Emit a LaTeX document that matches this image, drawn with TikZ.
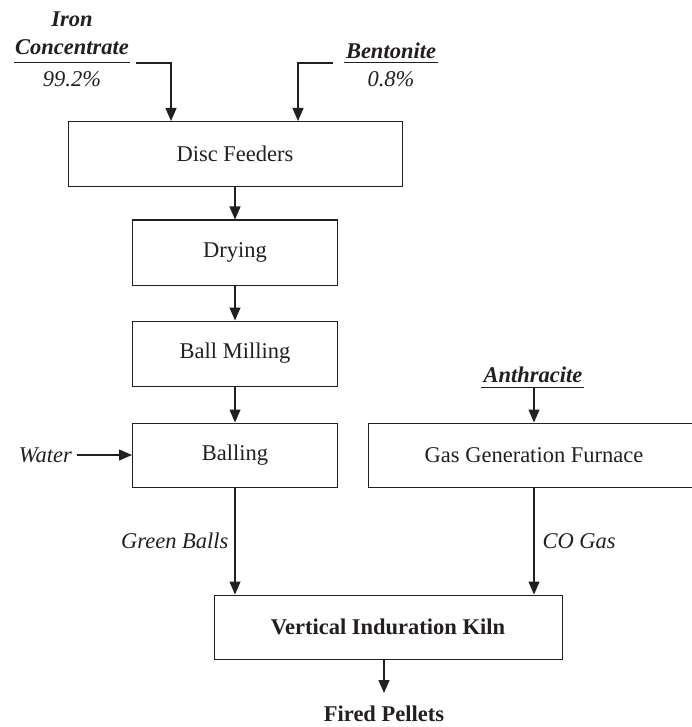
\documentclass[tikz,border=0pt]{standalone}
\usepackage{fontspec}
\setmainfont{Liberation Serif}
\usetikzlibrary{arrows.meta}
\definecolor{ink}{RGB}{35,31,32}
\begin{document}
\begin{tikzpicture}[x=1pt,y=-1pt,
  every node/.style={inner sep=0pt, text=ink},
  txt/.style={font=\fontsize{22.5}{28}\selectfont},
  lbl/.style={font=\fontsize{22.5}{28}\selectfont\itshape},
  lblb/.style={font=\fontsize{22.5}{28}\selectfont\bfseries\itshape},
  box/.style={draw=ink, line width=1pt, minimum width=#1, minimum height=65pt,
              font=\fontsize{22.5}{28}\selectfont},
  flow/.style={draw=ink, line width=1.2pt, -{Triangle[length=13pt,width=11pt]}},
  underline/.style={draw=ink, line width=1pt}]
\clip (0,0) rectangle (692,727);

% process boxes
\node[box=334pt] (disc) at (235,154) {Disc Feeders};
\node[box=205pt] (dry)  at (235,252.5) {Drying};
\node[box=205pt] (mill) at (235,353.5) {Ball Milling};
\node[box=205pt, minimum height=64pt] (ball) at (235,455) {Balling};
\node[box=332pt, minimum height=64pt] (gas) at (534,455) {Gas Generation Furnace};
\node[box=348pt, minimum height=64pt, font=\fontsize{22.5}{28}\selectfont\bfseries] (kiln) at (388,627) {Vertical Induration Kiln};

% raw material: iron concentrate
\node[lblb, anchor=base] (iron1) at (72,27) {Iron};
\node[lblb, anchor=base] (iron2) at (72,55) {Concentrate};
\node[lbl, anchor=base] (ironp) at (72,87) {99.2\%};
\coordinate (ironL) at (14,63);
\coordinate (ironR) at (130,63);
\coordinate (ironS) at (136,63);
\draw[underline] (ironL) -- (ironR);
\draw[flow] (ironS) -| ([xshift=-64pt]disc.north);

% raw material: bentonite
\node[lblb, anchor=base] (bent) at (391,59) {Bentonite};
\node[lbl, anchor=base] (bentp) at (391,87) {0.8\%};
\coordinate (bentL) at (344,63);
\coordinate (bentR) at (438,63);
\coordinate (bentS) at (333,63);
\draw[underline] (bentL) -- (bentR);
\draw[flow] (bentS) -| ([xshift=63pt]disc.north);

% main line
\draw[flow] (disc.south) -- (dry.north);
\draw[flow] (dry.south) -- (mill.north);
\draw[flow] (mill.south) -- (ball.north);

% water feed
\node[lbl, anchor=base east] (water) at (72,462) {Water};
\coordinate (waterS) at (77,455);
\draw[flow] (waterS) -- (ball.west);

% anthracite feed
\node[lblb, anchor=base] (anth) at (533,382) {Anthracite};
\coordinate (anthL) at (481,387);
\coordinate (anthR) at (584,387);
\coordinate (anthS) at (534,387);
\draw[underline] (anthL) -- (anthR);
\draw[flow] (anthS) -- (gas.north);

% streams into the kiln
\draw[flow] (ball.south) -- node[lbl, left=6pt] {Green Balls} (ball.south |- kiln.north);
\draw[flow] (gas.south) -- node[lbl, right=8pt] {CO Gas} (gas.south |- kiln.north);

% product
\node[txt, font=\fontsize{22.5}{28}\selectfont\bfseries, anchor=base] (fired) at (384,721) {Fired Pellets};
\coordinate (firedS) at (384,659);
\coordinate (firedE) at (384,693);
\draw[flow] (firedS) -- (firedE);
\end{tikzpicture}
\end{document}
